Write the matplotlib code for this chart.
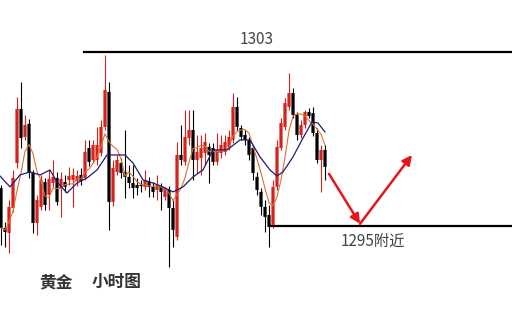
import numpy as np
import pandas as pd
import matplotlib
matplotlib.use('Agg')
import matplotlib.pyplot as plt

plt.rcParams['font.family'] = ['Noto Sans CJK SC', 'DejaVu Sans']

# hourly gold candles
opens = [1296.74, 1294.90, 1294.67, 1295.82, 1297.89, 1300.38, 1299.09, 1299.69, 1297.43, 1295.13,
         1295.87, 1297.02, 1296.42, 1296.97, 1297.20, 1296.74, 1297.02, 1297.11, 1297.11, 1297.06,
         1297.34, 1297.20, 1298.58, 1298.03, 1298.03, 1298.35, 1299.55, 1301.16, 1296.10, 1297.48,
         1297.89, 1297.48, 1297.25, 1296.97, 1296.88, 1296.88, 1296.79, 1297.02, 1296.79, 1296.65,
         1296.79, 1296.33, 1296.65, 1295.82, 1294.49, 1298.26, 1297.94, 1299.04, 1299.41, 1298.03,
         1298.12, 1298.35, 1298.63, 1298.58, 1297.94, 1298.35, 1298.40, 1298.63, 1298.95, 1300.47,
         1299.50, 1299.18, 1298.95, 1298.58, 1297.25, 1296.56, 1295.87, 1295.50, 1295.04, 1296.79,
         1298.58, 1299.55, 1300.47, 1301.11, 1300.10, 1299.18, 1299.64, 1300.24, 1300.19, 1299.27,
         1298.03, 1298.49]
highs = [1296.88, 1295.18, 1296.19, 1297.57, 1300.93, 1301.62, 1300.10, 1299.92, 1297.57, 1296.42,
         1297.34, 1297.20, 1297.57, 1298.03, 1297.48, 1297.48, 1297.34, 1297.71, 1297.66, 1297.57,
         1297.66, 1298.95, 1298.95, 1298.95, 1299.55, 1299.87, 1302.86, 1301.62, 1298.03, 1298.26,
         1298.12, 1299.41, 1297.80, 1297.80, 1297.20, 1297.11, 1297.57, 1297.25, 1297.02, 1297.34,
         1296.97, 1296.79, 1296.83, 1296.19, 1298.86, 1299.64, 1300.33, 1300.33, 1300.33, 1299.18,
         1299.18, 1299.27, 1298.81, 1298.81, 1299.27, 1299.18, 1299.18, 1299.41, 1301.11, 1300.93,
         1299.64, 1299.41, 1299.09, 1298.72, 1297.48, 1296.74, 1296.19, 1295.96, 1297.11, 1298.95,
         1299.96, 1300.88, 1302.03, 1301.34, 1300.24, 1299.87, 1300.33, 1300.42, 1300.47, 1299.50,
         1298.72, 1298.72]
lows = [1294.12, 1294.03, 1293.75, 1295.64, 1297.66, 1298.58, 1298.95, 1297.20, 1294.67, 1294.58,
        1295.73, 1295.73, 1295.73, 1296.79, 1295.96, 1295.41, 1296.56, 1296.88, 1295.87, 1296.83,
        1296.88, 1297.11, 1297.75, 1297.89, 1297.80, 1298.21, 1299.41, 1294.81, 1295.91, 1297.34,
        1297.20, 1296.28, 1296.74, 1296.28, 1296.42, 1296.56, 1296.65, 1296.33, 1296.33, 1296.19,
        1295.73, 1296.19, 1293.11, 1294.03, 1294.35, 1297.80, 1297.80, 1298.72, 1297.11, 1297.43,
        1297.34, 1297.80, 1296.97, 1297.80, 1297.80, 1298.12, 1298.26, 1298.49, 1298.81, 1299.41,
        1298.95, 1298.72, 1298.03, 1297.11, 1296.42, 1295.50, 1294.72, 1294.03, 1294.90, 1296.65,
        1298.49, 1299.41, 1300.33, 1299.96, 1298.95, 1299.04, 1299.50, 1299.96, 1299.13, 1297.89,
        1296.56, 1297.11]
closes = [1294.90, 1294.72, 1295.87, 1297.20, 1300.38, 1299.04, 1299.64, 1297.43, 1295.13, 1296.19,
          1297.11, 1295.96, 1297.16, 1297.25, 1296.10, 1297.16, 1296.79, 1297.29, 1297.34, 1297.29,
          1297.06, 1298.40, 1297.94, 1298.72, 1298.72, 1299.55, 1301.25, 1296.10, 1297.66, 1298.03,
          1297.43, 1297.25, 1296.97, 1296.74, 1296.74, 1296.83, 1297.11, 1296.79, 1296.56, 1296.88,
          1296.56, 1296.74, 1295.82, 1294.81, 1298.26, 1298.03, 1299.09, 1299.41, 1298.03, 1298.40,
          1298.58, 1298.86, 1298.26, 1297.94, 1298.49, 1298.72, 1298.86, 1299.09, 1300.47, 1299.55,
          1299.09, 1298.95, 1298.26, 1297.43, 1296.65, 1295.87, 1295.41, 1294.95, 1296.79, 1298.63,
          1299.73, 1300.65, 1301.11, 1300.10, 1299.18, 1299.64, 1300.24, 1300.05, 1299.27, 1298.03,
          1298.49, 1297.71]

# slow average (navy line), read at points
slow_x = [-0.25, 2.25, 4.75, 7.25, 9.75, 12.25, 14, 16.5, 19, 21.5, 24, 26.5, 28.5, 31, 33, 35.5,
          38, 40.5, 43, 45.5, 48, 50.5, 53, 56.5, 59.75, 62.25, 64.75, 67.25, 69, 70.5, 73, 75.5,
          77.75, 79.25, 81]
slow_y = [1297.29, 1296.79, 1297.34, 1297.48, 1297.34, 1297.57, 1297.02, 1296.51, 1296.97, 1297.20,
          1297.57, 1298.26, 1298.26, 1298.26, 1297.89, 1297.11, 1296.97, 1296.79, 1296.56, 1296.79,
          1297.25, 1297.57, 1298.49, 1298.49, 1298.95, 1298.95, 1298.17, 1297.57, 1297.29, 1297.48,
          1298.17, 1299.04, 1299.78, 1299.73, 1299.32]

top_level = 1303
bottom_level = 1295

df = pd.DataFrame({'o': opens, 'h': highs, 'l': lows, 'c': closes})
fast = df['c'].rolling(5, min_periods=1).mean()

fig = plt.figure(figsize=(5.12, 3.16), dpi=100)
ax = fig.add_axes([0, 0, 1, 1])
ax.set_xlim(-0.25, 127.75)
ax.set_ylim(1290.85, 1305.39)
ax.axis('off')

red = '#d8201c'
for i, r in df.iterrows():
    col = red if r['c'] >= r['o'] else 'black'
    ax.vlines(i, r['l'], r['h'], color=col, lw=0.8, zorder=2)
    b = min(r['o'], r['c'])
    hgt = max(abs(r['c'] - r['o']), 0.04)
    ax.add_patch(plt.Rectangle((i - 0.4, b), 0.8, hgt, facecolor=col, edgecolor='none',
                               zorder=3, snap=False))

ax.plot(df.index, fast, color='#e0702a', lw=0.8, zorder=4)
ax.plot(slow_x, slow_y, color='#1c1c7a', lw=0.9, zorder=4)

# level lines
ax.plot([20.75, 127.75], [top_level, top_level], color='black', lw=1.6)
ax.plot([67.5, 127.75], [bottom_level, bottom_level], color='black', lw=1.6)
ax.text(64, 1303.55, str(top_level), ha='center', va='center', fontsize=11, color='#444444')
ax.text(84.8, 1294.3, '1295附近', ha='left', va='center', fontsize=11, color='#444444')

# expected path arrows
ap = dict(arrowstyle='-|>', color='#e8141a', lw=1.8, mutation_scale=14, shrinkA=0, shrinkB=0)
ax.annotate('', xy=(89.75, 1295.09), xytext=(82, 1297.39), arrowprops=ap)
ax.annotate('', xy=(102.75, 1298.26), xytext=(89.75, 1295.09), arrowprops=ap)

ax.text(9.5, 1292.4, '黄金', ha='left', va='center', fontsize=12, fontweight='bold', color='#333333')
ax.text(22.7, 1292.4, '小时图', ha='left', va='center', fontsize=12, fontweight='bold', color='#333333')

fig.savefig('out.png', dpi=100)
